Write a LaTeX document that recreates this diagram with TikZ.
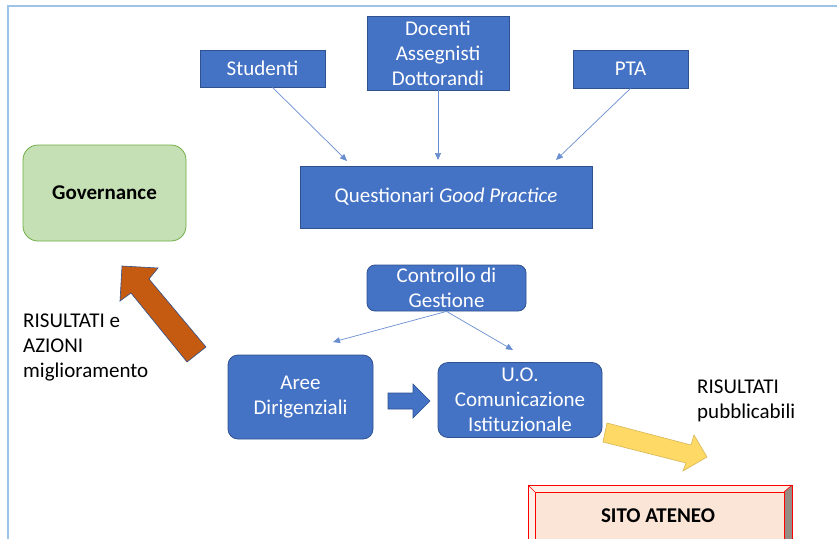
\documentclass[tikz,border=0pt]{standalone}
\usepackage{fontspec}
\setmainfont{Carlito}
\usetikzlibrary{arrows.meta}
\definecolor{pblue}{HTML}{4472C4}
\definecolor{pbluedk}{HTML}{2F528F}
\definecolor{frameblue}{HTML}{9DC3E6}
\definecolor{ggreen}{HTML}{C5E0B4}
\definecolor{ggreendk}{HTML}{70AD47}
\definecolor{porange}{HTML}{C55A11}
\definecolor{pyellow}{HTML}{FFD966}
\definecolor{pyellowdk}{HTML}{D6B656}
\definecolor{ppink}{HTML}{FBE5D6}
\definecolor{ppinklt}{HTML}{FDF0E8}
\definecolor{pgray}{HTML}{968C84}
\tikzset{
  txt/.style={font=\fontsize{21}{25}\selectfont, align=center, inner sep=0pt},
  btxt/.style={txt, font=\fontsize{21}{25}\selectfont\bfseries},
  bluebox/.style={txt, fill=pblue, draw=pbluedk, line width=0.8pt, text=white},
  rbluebox/.style={bluebox, rounded corners=10pt},
  conn/.style={draw=pblue!80, line width=0.7pt, -{Triangle[length=7pt,width=6pt]}},
}
\begin{document}
\begin{tikzpicture}[x=1pt,y=-1pt]
\useasboundingbox (0,0) rectangle (837,538);
\clip (0,0) rectangle (837,538);
\fill[white] (0,0) rectangle (837,538);
% frame
\draw[frameblue, line width=2pt] (8,560) -- (8,6) -- (860,6);

% top boxes
\node[bluebox, minimum width=125pt, minimum height=37pt] (stud) at (262.5,68.5) {Studenti};
\node[bluebox, minimum width=142pt, minimum height=74pt] (doc) at (438,53) {Docenti\\Assegnisti\\Dottorandi};
\node[bluebox, minimum width=115pt, minimum height=38pt] (pta) at (630.5,69) {PTA};
\node[bluebox, minimum width=292pt, minimum height=62pt] (quest) at (446,197) {Questionari \textit{Good Practice}};

\coordinate (e1) at (347,161);
\coordinate (e2) at (438,160);
\coordinate (e3) at (556,160);
\draw[conn] ([xshift=10pt]stud.south) -- (e1);
\draw[conn] (doc.south) -- (e2);
\draw[conn] (pta.south) -- (e3);

% governance
\node[btxt, fill=ggreen, draw=ggreendk, line width=0.8pt, rounded corners=15pt, minimum width=163pt, minimum height=96pt] (gov) at (104.5,193) {Governance};

% controllo
\node[bluebox, rounded corners=8pt, minimum width=159pt, minimum height=46pt] (ctrl) at (446.5,288) {Controllo di\\Gestione};
\node[rbluebox, minimum width=145pt, minimum height=84pt] (aree) at (300.5,397) {Aree\\Dirigenziali};
\node[rbluebox, minimum width=164pt, minimum height=75pt] (uo) at (520,400) {U.O.\\Comunicazione\\Istituzionale};

\coordinate (e4) at (333,342);
\coordinate (e5) at (513,350);
\draw[conn] (ctrl.south) -- (e4);
\draw[conn] (ctrl.south) -- (e5);

% blue block arrow
\fill[pblue, draw=pbluedk, line width=0.6pt] (388,393) -- (413,393) -- (413,384) -- (430,401) -- (413,418) -- (413,409) -- (388,409) -- cycle;

% orange arrow
\fill[porange, draw=pbluedk, line width=0.6pt] (122,266) -- (158,268) -- (149,279) -- (206,347) -- (187,362) -- (131,293) -- (120,301) -- cycle;

% yellow arrow
\fill[pyellow, draw=pyellowdk, line width=0.6pt] (607,423) -- (691,445) -- (694,435) -- (707,457) -- (683,471) -- (686,463) -- (603,442) -- cycle;

% texts
\node[txt, align=left, anchor=west] (ris1) at (23,347) {RISULTATI e\\AZIONI\\miglioramento};
\node[txt, align=left, anchor=west] (ris2) at (697,401) {RISULTATI\\pubblicabili};

% sito ateneo bevel box
\fill[ppinklt] (528,485) -- (792,485) -- (784,492) -- (535,492) -- cycle;
\fill[ppinklt] (528,485) -- (535,492) -- (535,560) -- (528,560) -- cycle;
\fill[pgray] (792,485) -- (792,560) -- (784,560) -- (784,492) -- cycle;
\node[btxt, fill=ppink, draw=red, line width=0.8pt, minimum width=249pt, minimum height=60pt, anchor=north west] (sito) at (535,492) {};
\node[btxt] (sitot) at (658,516) {SITO ATENEO};
\draw[red, line width=0.8pt] (528,560) -- (528,485) -- (792,485) -- (792,560);
\draw[red, line width=0.6pt] (528,485) -- (535,492) (792,485) -- (784,492);
\end{tikzpicture}
\end{document}
